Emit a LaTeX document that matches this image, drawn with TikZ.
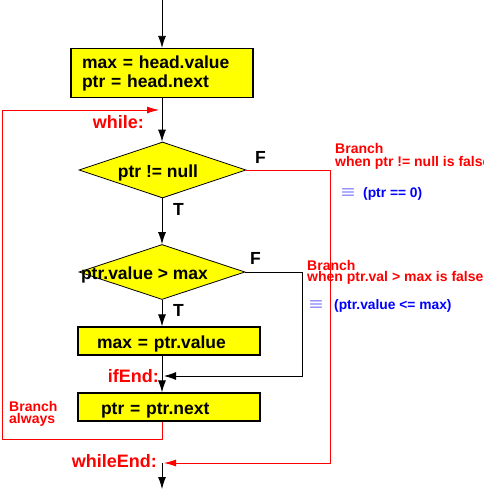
\documentclass[tikz,border=0pt]{standalone}
\usepackage{fontspec}
\usepackage{graphicx}
\setmainfont{Liberation Sans}
\usetikzlibrary{arrows.meta,shapes.geometric}
\definecolor{fyellow}{RGB}{255,255,0}
\definecolor{fred}{RGB}{255,0,0}
\definecolor{fblue}{RGB}{0,0,255}
\begin{document}
\begin{tikzpicture}[x=1pt,y=-1pt,
  arr/.style={line width=0.8pt,-{Latex[length=12pt,width=8pt]}},
  rarr/.style={fred,line width=0.8pt,-{Latex[length=12pt,width=7pt]}},
  box/.style={draw,line width=1.3pt,fill=fyellow,inner sep=0pt,font=\bfseries\fontsize{17.5}{19}\selectfont},
  dia/.style={diamond,draw,line width=0.8pt,fill=fyellow,inner sep=0pt,text height=14pt,text depth=0pt,font=\bfseries\fontsize{17.5}{19}\selectfont},
  lbl/.style={fred,inner sep=0pt,anchor=base east,font=\bfseries\fontsize{18}{18}\selectfont},
  tf/.style={inner sep=0pt,anchor=base west,font=\bfseries\fontsize{17.5}{18}\selectfont},
  note/.style={fred,inner sep=0pt,anchor=base west,align=left,font=\bfseries\fontsize{14}{13}\selectfont},
  bnote/.style={fblue,inner sep=0pt,anchor=base west,font=\bfseries\fontsize{13.8}{13}\selectfont},
  eqv/.style={fblue,inner sep=0pt}
]
\useasboundingbox (0,0) rectangle (483,490);
% shapes
\node[box,minimum width=182,minimum height=49,text width=160,align=left] (b1) at (162,73) {max = head.value\\ptr = head.next};
\node[dia,minimum width=167,minimum height=56] (d1) at (162.5,170) {\makebox[0pt]{\kern-9pt ptr != null}};
\node[dia,minimum width=166,minimum height=55] (d2) at (162,272) {\makebox[0pt]{\kern-35pt ptr.value > max}};
\node[box,minimum width=182,minimum height=28,text width=144,align=left,text height=14pt,text depth=0pt] (b3) at (169,341) {max = ptr.value};
\node[box,minimum width=182,minimum height=28,text width=136,align=left,text height=14pt,text depth=0pt] (b4) at (169,407) {ptr = ptr.next};
% labels
\node[lbl] (lwhile) at (144,128) {while:};
\node[lbl] (lif) at (159,382) {ifEnd:};
\node[lbl] (lwend) at (157,467) {whileEnd:};
\node[tf] (t1) at (173,215) {T};
\node[tf] (f1) at (255,163) {F};
\node[tf] (t2) at (173,316) {T};
\node[tf] (f2) at (250,264) {F};
\node[note] (n1) at (335,166) {Branch\\when ptr != null is false};
\node[eqv] (e1) at (348,193) {\scalebox{1.8}[1.6]{$\equiv$}};
\node[bnote] (n1b) at (363,197) {(ptr == 0)};
\node[note,font=\bfseries\fontsize{14}{10.5}\selectfont] (n2) at (307,281) {Branch\\when ptr.val > max is false};
\node[eqv] (e2) at (316,305) {\scalebox{1.8}[1.6]{$\equiv$}};
\node[bnote] (n2b) at (334,309) {(ptr.value <= max)};
\node[note,font=\bfseries\fontsize{14}{10}\selectfont] (n3) at (9,423) {Branch\\always};
% coordinates
\coordinate (top) at (162,0);
\coordinate (wh) at (162,110);
\coordinate (ie) at (162,376);
\coordinate (we) at (162,463);
\coordinate (bot) at (162,489);
\coordinate (c1) at (330,170);
\coordinate (c2) at (330,463);
\coordinate (c3) at (302,272);
\coordinate (c4) at (302,376);
\coordinate (c5) at (162,439);
\coordinate (c6) at (2,439);
\coordinate (c7) at (2,110);
% connectors
\draw[arr] (top) -- (b1.north);
\draw[arr] (b1.south) -- (b1.south |- d1.north);
\draw[arr] (d1.south -| wh) -- (d2.north);
\draw[arr] (d2.south) -- (d2.south |- b3.north);
\draw[line width=0.8pt] (b3.south -| ie) -- (ie);
\draw[arr] (ie) -- (ie |- b4.north);
\draw[arr,shorten >=2pt] (d2.east) -- (c3) -- (c4) -- (ie);
\draw[rarr,shorten >=3pt] (b4.south -| ie) -- (c5) -- (c6) -- (c7) -- (wh);
\draw[rarr,shorten >=2pt] (d1.east) -- (c1) -- (c2) -- (we);
\draw[arr] (we) -- (bot);
\end{tikzpicture}
\end{document}
